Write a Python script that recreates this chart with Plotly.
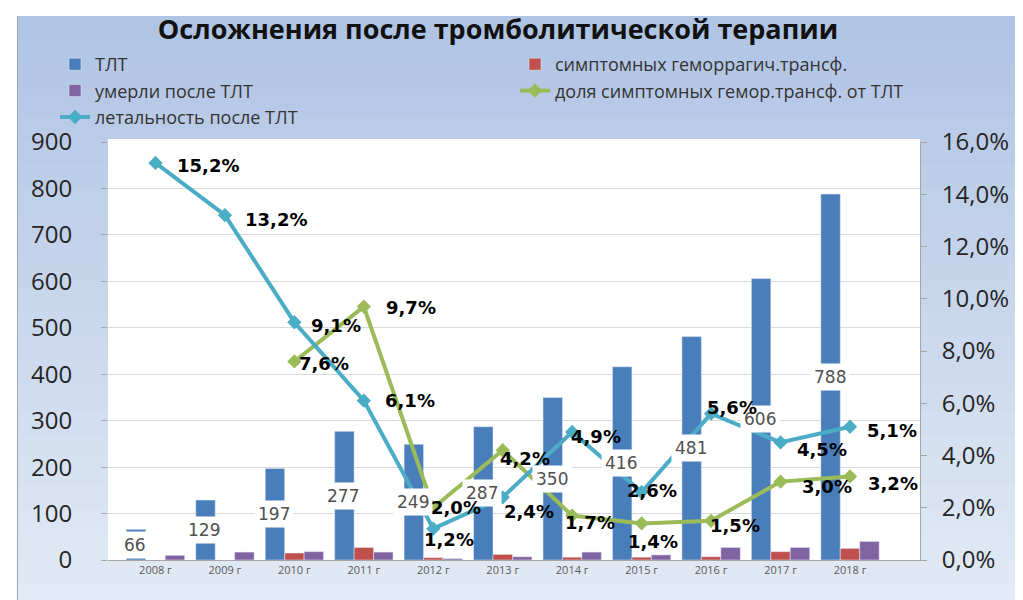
import plotly.graph_objects as go

# ---------------- data ----------------
years = ["2008 г", "2009 г", "2010 г", "2011 г", "2012 г", "2013 г",
         "2014 г", "2015 г", "2016 г", "2017 г", "2018 г"]
tlt = [66, 129, 197, 277, 249, 287, 350, 416, 481, 606, 788]
sympt_hem = [None, None, 15, 27, 5, 12, 6, 6, 7, 18, 25]
died = [10, 17, 18, 17, 3, 7, 17, 11, 27, 27, 40]
share_hem_pct = [None, None, 7.6, 9.7, 2.0, 4.2, 1.7, 1.4, 1.5, 3.0, 3.2]
mortality_pct = [15.2, 13.2, 9.1, 6.1, 1.2, 2.4, 4.9, 2.6, 5.6, 4.5, 5.1]

names = ["ТЛТ", "симптомных геморрагич.трансф.", "умерли после ТЛТ",
         "доля симптомных гемор.трансф. от ТЛТ", "летальность после ТЛТ"]

# ---------------- style ----------------
C_BLUE, C_RED, C_PURPLE = "#4a7ebb", "#c0504d", "#8064a2"
C_GREEN, C_TEAL = "#9bbb59", "#4bacc6"
ML, MR, MT, MB = 100, 111, 134, 48
W, H = 1023, 600
PW, PH = W - ML - MR, H - MT - MB

# label offsets (px) for line labels: (dx, dy_down)
mort_off = [(53, 3), (51, 4), (42, 3), (46, 0), (16, 11), (26, 14),
            (24, 5), (10, -2), (21, -6), (41, 7), (42, 4)]
share_off = [None, None, (30, 2), (47, 1), (23, 0), (22, 8),
             (18, 7), (11, 18), (24, 5), (46, 5), (43, 7)]

def px2x(px):
    return (px - ML) / PW

def px2y(py):
    return 1 - (py - MT) / PH

fig = go.Figure()

fig.add_bar(x=years, y=tlt, name=names[0], marker_color=C_BLUE, legend="legend")
fig.add_bar(x=years, y=sympt_hem, name=names[1], marker_color=C_RED, legend="legend2")
fig.add_bar(x=years, y=died, name=names[2], marker_color=C_PURPLE, legend="legend")

fig.add_scatter(x=years, y=share_hem_pct, name=names[3], yaxis="y2",
                mode="lines+markers", line=dict(color=C_GREEN, width=4),
                marker=dict(symbol="diamond", size=11, color=C_GREEN),
                connectgaps=False, legend="legend2")
fig.add_scatter(x=years, y=mortality_pct, name=names[4], yaxis="y2",
                mode="lines+markers", line=dict(color=C_TEAL, width=4),
                marker=dict(symbol="diamond", size=11, color=C_TEAL),
                legend="legend")

# background gradient (shapes)
shapes = []
nb = 24
top_c = (176, 196, 228)
bot_c = (226, 234, 245)
y_top, y_bot = 8, 600
for i in range(nb):
    t = i / (nb - 1)
    c = tuple(int(round(top_c[k] + (bot_c[k] - top_c[k]) * t)) for k in range(3))
    y0 = y_top + (y_bot - y_top) * i / nb
    y1 = y_top + (y_bot - y_top) * (i + 1) / nb
    shapes.append(dict(type="rect", xref="paper", yref="paper", layer="below",
                       x0=px2x(10), x1=px2x(W + 2), y0=px2y(y1 + 1), y1=px2y(y0),
                       fillcolor="rgb(%d,%d,%d)" % c, line_width=0))
shapes.append(dict(type="line", xref="paper", yref="paper", layer="below",
                   x0=px2x(9.5), x1=px2x(9.5), y0=px2y(600), y1=px2y(8),
                   line=dict(color="#9aa6b8", width=1)))
shapes.append(dict(type="rect", xref="paper", yref="paper", layer="below",
                   x0=0, x1=1, y0=0, y1=px2y(131),
                   fillcolor="white", line_width=0))

annotations = []
# value labels for TLT bars (white boxes at bar middle)
for yr, v in zip(years, tlt):
    annotations.append(dict(x=yr, y=v / 2, xref="x", yref="y", text=str(v),
                            showarrow=False, xshift=-20.5, bgcolor="white",
                            borderpad=3,
                            font=dict(family="DejaVu Sans", size=17, color="#505050")))

def fmt(v):
    return ("%.1f%%" % v).replace(".", ",")

for yr, v, off in zip(years, share_hem_pct, share_off):
    if v is None:
        continue
    annotations.append(dict(x=yr, y=v, xref="x", yref="y2", text="<b>%s</b>" % fmt(v),
                            showarrow=False, xshift=off[0], yshift=-off[1],
                            font=dict(family="DejaVu Sans", size=18, color="black"),
                            xanchor="center", yanchor="middle"))
for yr, v, off in zip(years, mortality_pct, mort_off):
    annotations.append(dict(x=yr, y=v, xref="x", yref="y2", text="<b>%s</b>" % fmt(v),
                            showarrow=False, xshift=off[0], yshift=-off[1],
                            font=dict(family="DejaVu Sans", size=18, color="black"),
                            xanchor="center", yanchor="middle"))

legend_common = dict(orientation="v", xanchor="left", yanchor="top",
                     bgcolor="rgba(0,0,0,0)", traceorder="normal",
                     itemwidth=30, tracegroupgap=0,
                     font=dict(family="Open Sans", size=18, color="#333333"))

fig.update_layout(
    width=W, height=H,
    margin=dict(l=ML, r=MR, t=MT, b=MB, autoexpand=False),
    paper_bgcolor="white", plot_bgcolor="rgba(0,0,0,0)",
    separators=", ",
    barmode="group", bargap=0.16, bargroupgap=0,
    title=dict(text="<b>Осложнения после тромболитической терапии</b>",
               x=0.479, xanchor="center", y=1 - 22 / H, yanchor="middle",
               font=dict(family="Open Sans", size=27, color="#111111")),
    legend=dict(x=px2x(47), y=px2y(38), **legend_common),
    legend2=dict(x=px2x(507), y=px2y(38), **legend_common),
    xaxis=dict(type="category", showgrid=False, showline=True,
               linecolor="#a6a6a6", linewidth=1, ticks="",
               tickfont=dict(family="Open Sans", size=11, color="#595959")),
    yaxis=dict(range=[0, 900], dtick=100, showgrid=True, gridcolor="#d9d9d9",
               zeroline=False, showline=False, ticks="outside", ticklen=6,
               tickcolor="#a6a6a6", ticklabelstandoff=24,
               tickfont=dict(family="Open Sans", size=24, color="#262626")),
    yaxis2=dict(range=[0, 16], dtick=2, overlaying="y", side="right",
                showgrid=False, zeroline=False, showline=True,
                linecolor="#a6a6a6", ticks="outside", ticklen=6,
                tickcolor="#a6a6a6", tickformat=".1f", ticksuffix="%",
                ticklabelstandoff=10,
                tickfont=dict(family="Open Sans", size=24, color="#262626")),
    shapes=shapes,
    annotations=annotations,
)

fig.write_html("out.html")
